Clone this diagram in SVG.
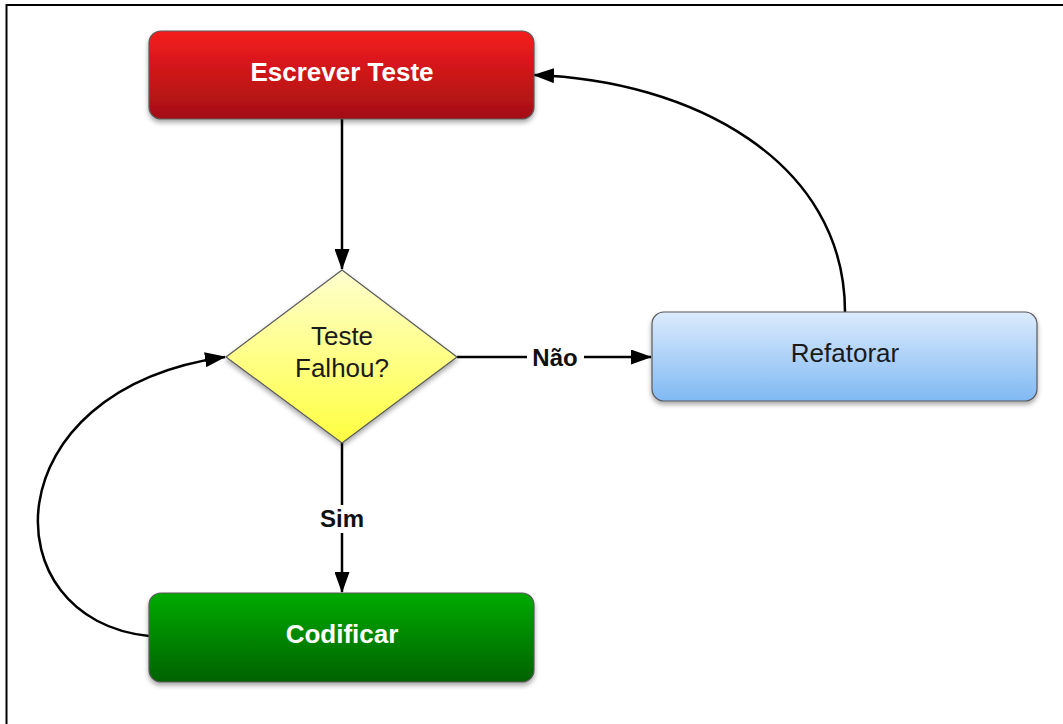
<svg xmlns="http://www.w3.org/2000/svg" width="1063" height="724" viewBox="0 0 1063 724">
<defs>
  <linearGradient id="gRed" x1="0" y1="0" x2="0" y2="1">
    <stop offset="0" stop-color="#f51d1f"/>
    <stop offset="1" stop-color="#a30f12"/>
  </linearGradient>
  <linearGradient id="gYel" x1="0" y1="0" x2="0" y2="1">
    <stop offset="0" stop-color="#ffffcf"/>
    <stop offset="1" stop-color="#ffff40"/>
  </linearGradient>
  <linearGradient id="gBlue" x1="0" y1="0" x2="0" y2="1">
    <stop offset="0" stop-color="#dcebfd"/>
    <stop offset="1" stop-color="#80b9f3"/>
  </linearGradient>
  <linearGradient id="gGreen" x1="0" y1="0" x2="0" y2="1">
    <stop offset="0" stop-color="#00ab00"/>
    <stop offset="1" stop-color="#006200"/>
  </linearGradient>
  <filter id="sh" x="-10%" y="-10%" width="120%" height="130%">
    <feGaussianBlur in="SourceAlpha" stdDeviation="2.5"/>
    <feOffset dx="0" dy="3" result="b"/>
    <feComponentTransfer><feFuncA type="linear" slope="0.35"/></feComponentTransfer>
    <feMerge><feMergeNode/><feMergeNode in="SourceGraphic"/></feMerge>
  </filter>
  <marker id="arr" markerWidth="21" markerHeight="15" refX="20" refY="7.5" orient="auto" markerUnits="userSpaceOnUse">
    <path d="M0,0 L21,7.5 L0,15 Z" fill="#000"/>
  </marker>
</defs>
<style>
  .box { stroke: #5a5a5a; stroke-width: 1.2; filter: url(#sh); }
  .edge { fill: none; stroke: #000; stroke-width: 2.5; marker-end: url(#arr); }
  .wt { font-family: "Liberation Sans", Arial, sans-serif; font-size: 26px; font-weight: bold; fill: #ffffff; text-anchor: middle; }
  .dt { font-family: "Liberation Sans", Arial, sans-serif; font-size: 26px; fill: #1a1a1a; text-anchor: middle; }
  .lbl { font-family: "Liberation Sans", Arial, sans-serif; font-size: 24px; font-weight: bold; fill: #111; text-anchor: middle; }
</style>
<rect x="0" y="0" width="1063" height="724" fill="#ffffff"/>
<rect x="6.5" y="5" width="1080" height="740" fill="none" stroke="#000" stroke-width="2"/>

<g id="connectors">
  <path class="edge" d="M342,119 L342,269"/>
  <path class="edge" d="M457,357 L651,357"/>
  <path class="edge" d="M342,443 L342,592"/>
  <path class="edge" d="M149,636 C-10,620 -10,390 225,357"/>
  <path class="edge" d="M845,312 C845,160 690,80 534,75"/>
  <rect x="527" y="342" width="57" height="30" fill="#fff"/>
  <text class="lbl" x="555" y="366">Não</text>
  <rect x="314" y="505" width="56" height="28" fill="#fff"/>
  <text class="lbl" x="342" y="527">Sim</text>
</g>

<g id="escrever">
  <rect class="box" x="149" y="31" width="385" height="88" rx="12" fill="url(#gRed)"/>
  <text class="wt" x="342" y="81">Escrever Teste</text>
</g>

<g id="decisao">
  <path class="box" d="M342,270 L457,357 L342,443 L226,357 Z" fill="url(#gYel)" stroke="#9a9a70" stroke-linejoin="round"/>
  <text class="dt" x="342" y="345">Teste</text>
  <text class="dt" x="342" y="377">Falhou?</text>
</g>

<g id="refatorar">
  <rect class="box" x="652" y="312" width="385" height="89" rx="12" fill="url(#gBlue)"/>
  <text class="dt" x="845" y="362">Refatorar</text>
</g>

<g id="codificar">
  <rect class="box" x="149" y="593" width="385" height="89" rx="12" fill="url(#gGreen)"/>
  <text class="wt" x="342" y="643">Codificar</text>
</g>
</svg>
